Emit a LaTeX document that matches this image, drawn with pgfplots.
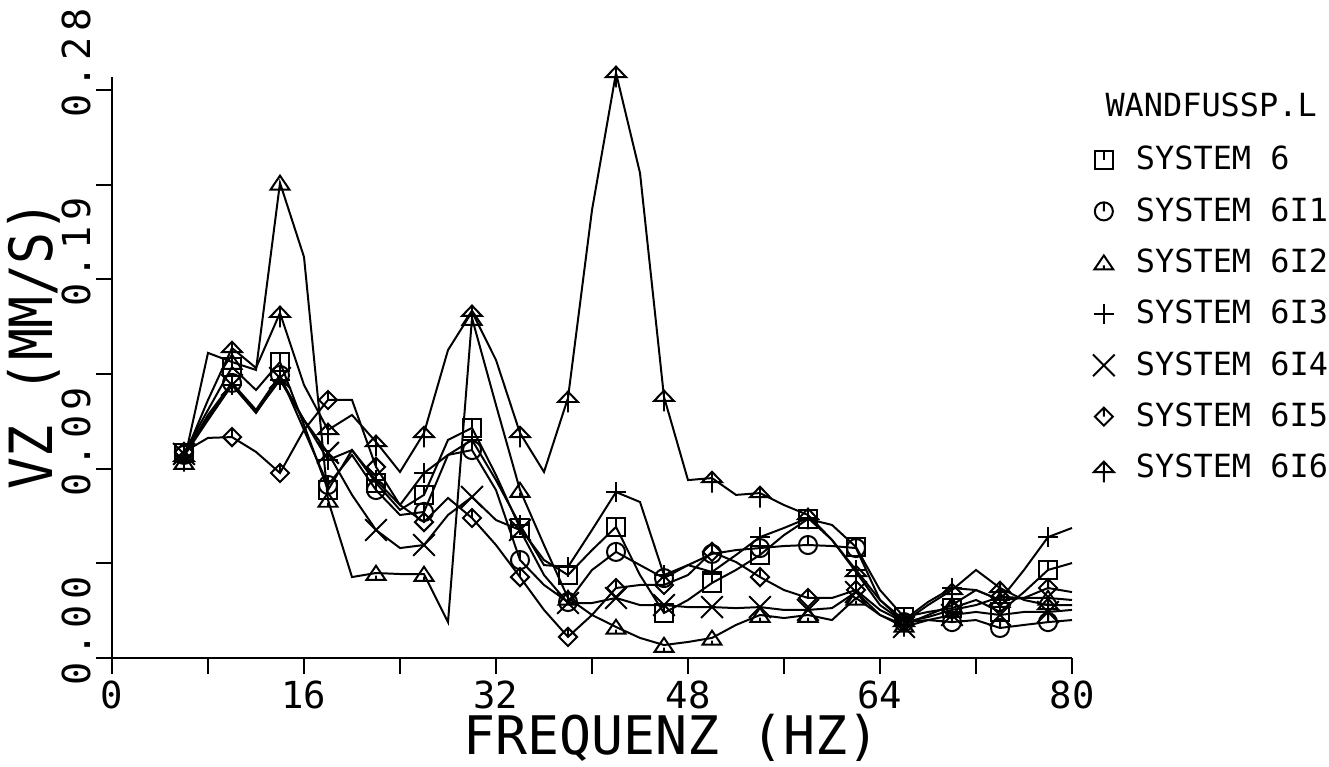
\documentclass[border=0pt]{standalone}
\usepackage{pgfplots}
\pgfplotsset{compat=1.18}
\usepackage{pgfplotstable}
\usepackage{graphicx}
\usepackage{fontspec}
\setmainfont{DejaVu Sans Mono}

\pgfdeclareplotmark{sqv}{%
  \pgfpathrectangle{\pgfqpoint{-\pgfplotmarksize}{-\pgfplotmarksize}}{\pgfqpoint{2\pgfplotmarksize}{2\pgfplotmarksize}}%
  \pgfpathmoveto{\pgfqpoint{0pt}{\pgfplotmarksize}}%
  \pgfpathlineto{\pgfqpoint{0pt}{0pt}}%
  \pgfusepathqstroke}
\pgfdeclareplotmark{cirv}{%
  \pgfpathcircle{\pgfpointorigin}{\pgfplotmarksize}%
  \pgfpathmoveto{\pgfqpoint{0pt}{\pgfplotmarksize}}%
  \pgfpathlineto{\pgfqpoint{0pt}{0pt}}%
  \pgfusepathqstroke}
\pgfdeclareplotmark{triv}{%
  \pgfpathmoveto{\pgfqpoint{0pt}{0.8\pgfplotmarksize}}%
  \pgfpathlineto{\pgfqpoint{-1.05\pgfplotmarksize}{-0.75\pgfplotmarksize}}%
  \pgfpathlineto{\pgfqpoint{1.05\pgfplotmarksize}{-0.75\pgfplotmarksize}}%
  \pgfpathclose
  \pgfpathmoveto{\pgfqpoint{0pt}{-0.75\pgfplotmarksize}}%
  \pgfpathlineto{\pgfqpoint{0pt}{-0.3\pgfplotmarksize}}%
  \pgfusepathqstroke}
\pgfdeclareplotmark{triarrow}{%
  \pgfpathmoveto{\pgfqpoint{0pt}{0.7\pgfplotmarksize}}%
  \pgfpathlineto{\pgfqpoint{-1.1\pgfplotmarksize}{-0.45\pgfplotmarksize}}%
  \pgfpathlineto{\pgfqpoint{1.1\pgfplotmarksize}{-0.45\pgfplotmarksize}}%
  \pgfpathclose
  \pgfpathmoveto{\pgfqpoint{0pt}{0.7\pgfplotmarksize}}%
  \pgfpathlineto{\pgfqpoint{0pt}{-1.6\pgfplotmarksize}}%
  \pgfusepathqstroke}
\pgfdeclareplotmark{diav}{%
  \pgfpathmoveto{\pgfqpoint{0pt}{\pgfplotmarksize}}%
  \pgfpathlineto{\pgfqpoint{\pgfplotmarksize}{0pt}}%
  \pgfpathlineto{\pgfqpoint{0pt}{-\pgfplotmarksize}}%
  \pgfpathlineto{\pgfqpoint{-\pgfplotmarksize}{0pt}}%
  \pgfpathclose
  \pgfpathmoveto{\pgfqpoint{0pt}{\pgfplotmarksize}}%
  \pgfpathlineto{\pgfqpoint{0pt}{0pt}}%
  \pgfusepathqstroke}
\pgfdeclareplotmark{pp}{%
  \pgfpathmoveto{\pgfqpoint{-1.1\pgfplotmarksize}{0pt}}%
  \pgfpathlineto{\pgfqpoint{1.1\pgfplotmarksize}{0pt}}%
  \pgfpathmoveto{\pgfqpoint{0pt}{-1.1\pgfplotmarksize}}%
  \pgfpathlineto{\pgfqpoint{0pt}{1.1\pgfplotmarksize}}%
  \pgfusepathqstroke}
\pgfdeclareplotmark{xx}{%
  \pgfpathmoveto{\pgfqpoint{-1.2\pgfplotmarksize}{-1.2\pgfplotmarksize}}%
  \pgfpathlineto{\pgfqpoint{1.2\pgfplotmarksize}{1.2\pgfplotmarksize}}%
  \pgfpathmoveto{\pgfqpoint{-1.2\pgfplotmarksize}{1.2\pgfplotmarksize}}%
  \pgfpathlineto{\pgfqpoint{1.2\pgfplotmarksize}{-1.2\pgfplotmarksize}}%
  \pgfusepathqstroke}

\pgfplotsset{markonly/.style={only marks, legend image code/.code={\draw[mark repeat=1,mark phase=1,##1] plot coordinates {(0cm,0cm)};}}}

\pgfplotstableread{
f A B C D E F G
6 0.1011 0.1001 0.0966 0.0996 0.1006 0.1016 0.0990
8 0.1223 0.1198 0.1504 0.1173 0.1183 0.1085 0.1272
10 0.1434 0.1356 0.1459 0.1346 0.1346 0.1089 0.1528
12 0.1321 0.1223 0.1420 0.1213 0.1208 0.1016 0.1430
14 0.1459 0.1395 0.2342 0.1370 0.1380 0.0912 0.1701
16 0.1149 0.1124 0.1977 0.1173 0.1173 0.1124 0.1346
18 0.0828 0.0853 0.0779 0.0976 0.1011 0.1272 0.1124
20 0.1025 0.1001 0.0399 0.1025 0.0804 0.1272 0.1198
22 0.0863 0.0828 0.0419 0.0877 0.0631 0.0942 0.1065
24 0.0730 0.0705 0.0414 0.0754 0.0542 0.0754 0.0917
26 0.0804 0.0720 0.0414 0.0912 0.0557 0.0670 0.1109
28 0.1075 0.1001 0.0177 0.1001 0.0705 0.0789 0.1518
30 0.1134 0.1025 0.1676 0.1075 0.0794 0.0690 0.1706
32 0.0902 0.0828 0.1247 0.0877 0.0680 0.0557 0.1469
34 0.0641 0.0483 0.0828 0.0656 0.0631 0.0399 0.1109
36 0.0483 0.0360 0.0557 0.0458 0.0409 0.0237 0.0917
38 0.0409 0.0276 0.0296 0.0449 0.0271 0.0104 0.1282
40 0.0532 0.0434 0.0212 0.0631 0.0271 0.0212 0.2208
42 0.0646 0.0523 0.0153 0.0818 0.0296 0.0345 0.2884
44 0.0409 0.0458 0.0099 0.0769 0.0261 0.0360 0.2391
46 0.0222 0.0394 0.0064 0.0409 0.0261 0.0360 0.1287
48 0.0286 0.0458 0.0079 0.0458 0.0251 0.0409 0.0877
50 0.0370 0.0513 0.0099 0.0424 0.0251 0.0523 0.0887
52 0.0434 0.0532 0.0163 0.0508 0.0246 0.0473 0.0804
54 0.0508 0.0542 0.0212 0.0596 0.0251 0.0399 0.0813
56 0.0606 0.0552 0.0197 0.0641 0.0237 0.0335 0.0754
58 0.0685 0.0557 0.0212 0.0690 0.0237 0.0296 0.0705
60 0.0656 0.0552 0.0187 0.0582 0.0246 0.0296 0.0582
62 0.0547 0.0542 0.0296 0.0434 0.0325 0.0335 0.0424
64 0.0335 0.0286 0.0212 0.0286 0.0212 0.0237 0.0261
66 0.0202 0.0177 0.0163 0.0187 0.0153 0.0177 0.0177
68 0.0227 0.0187 0.0212 0.0276 0.0187 0.0202 0.0261
70 0.0246 0.0177 0.0261 0.0345 0.0212 0.0237 0.0335
72 0.0286 0.0187 0.0335 0.0335 0.0227 0.0261 0.0434
74 0.0227 0.0148 0.0286 0.0286 0.0212 0.0301 0.0345
76 0.0325 0.0163 0.0296 0.0434 0.0227 0.0296 0.0286
78 0.0434 0.0177 0.0296 0.0596 0.0227 0.0345 0.0261
80 0.0468 0.0187 0.0286 0.0641 0.0237 0.0325 0.0261
}\vdata

\begin{document}
\begin{tikzpicture}
\useasboundingbox (-42.137pt,-40.632pt) rectangle (457.863pt,247.554pt);
\begin{axis}[
  scale only axis,
  width=361.173pt, height=218.585pt,
  xmin=0, xmax=80, ymin=0, ymax=0.2864,
  axis x line=bottom, axis y line=left,
  axis line style={-, line width=0.8pt, black},
  tick align=outside,
  major tick length=6.02pt,
  tick style={line width=0.8pt, black},
  xtick={0,8,...,80},
  xticklabels={0,,16,,32,,48,,64,,80},
  ytick={0,0.0466667,0.0933333,0.14,0.1866667,0.2333333,0.28},
  yticklabels={0.00,,0.09,,0.19,,0.28},
  xticklabel style={font=\fontsize{14}{14}\selectfont, anchor=north, inner sep=0pt, yshift=-2.3pt},
  yticklabel style={font=\fontsize{14.5}{14.5}\selectfont\addfontfeature{LetterSpace=14}, xshift=-1.9pt, yshift=-10.5pt, rotate=90, anchor=base west, inner sep=0pt},
  clip=false,
  every axis plot/.append style={line width=0.75pt, black, mark size=3.4pt, mark repeat=2, mark phase=1, mark options={solid}},
  legend style={at={(axis cs:81.75,0.2549)}, anchor=north west, draw=none, fill=none,
    inner sep=0pt, outer sep=0pt, row sep=4.9pt, column sep=6pt,
    font=\fontsize{12}{12}\selectfont},
  legend cell align=left,
]
\addplot[mark=sqv, forget plot] table[x=f,y=A]{\vdata};
\addplot[mark=cirv, forget plot] table[x=f,y=B]{\vdata};
\addplot[mark=triv, forget plot] table[x=f,y=C]{\vdata};
\addplot[mark=pp, forget plot] table[x=f,y=D]{\vdata};
\addplot[mark=xx, forget plot] table[x=f,y=E]{\vdata};
\addplot[mark=diav, forget plot] table[x=f,y=F]{\vdata};
\addplot[mark=triarrow, forget plot] table[x=f,y=G]{\vdata};

\addlegendimage{markonly, line width=0.75pt, mark size=3.4pt, mark=sqv}\addlegendentry{SYSTEM 6}
\addlegendimage{markonly, line width=0.75pt, mark size=3.4pt, mark=cirv}\addlegendentry{SYSTEM 6I1}
\addlegendimage{markonly, line width=0.75pt, mark size=3.4pt, mark=triv}\addlegendentry{SYSTEM 6I2}
\addlegendimage{markonly, line width=0.75pt, mark size=3.4pt, mark=pp}\addlegendentry{SYSTEM 6I3}
\addlegendimage{markonly, line width=0.75pt, mark size=3.4pt, mark=xx}\addlegendentry{SYSTEM 6I4}
\addlegendimage{markonly, line width=0.75pt, mark size=3.4pt, mark=diav}\addlegendentry{SYSTEM 6I5}
\addlegendimage{markonly, line width=0.75pt, mark size=3.4pt, mark=triarrow}\addlegendentry{SYSTEM 6I6}

\node[anchor=west, inner sep=0pt, font=\fontsize{12}{12}\selectfont] at (axis cs:82.75,0.2726) {WANDFUSSP.L};
\node[rotate=90, inner sep=0pt, font=\fontsize{20}{20}\selectfont] at (axis cs:-6.5,0.1543) {\scalebox{1}[1.12]{VZ (MM/S)}};
\node[anchor=base, inner sep=0pt, font=\fontsize{20}{20}\selectfont] at (axis cs:46.6,-0.0478) {FREQUENZ (HZ)};
\end{axis}
\end{tikzpicture}
\end{document}
